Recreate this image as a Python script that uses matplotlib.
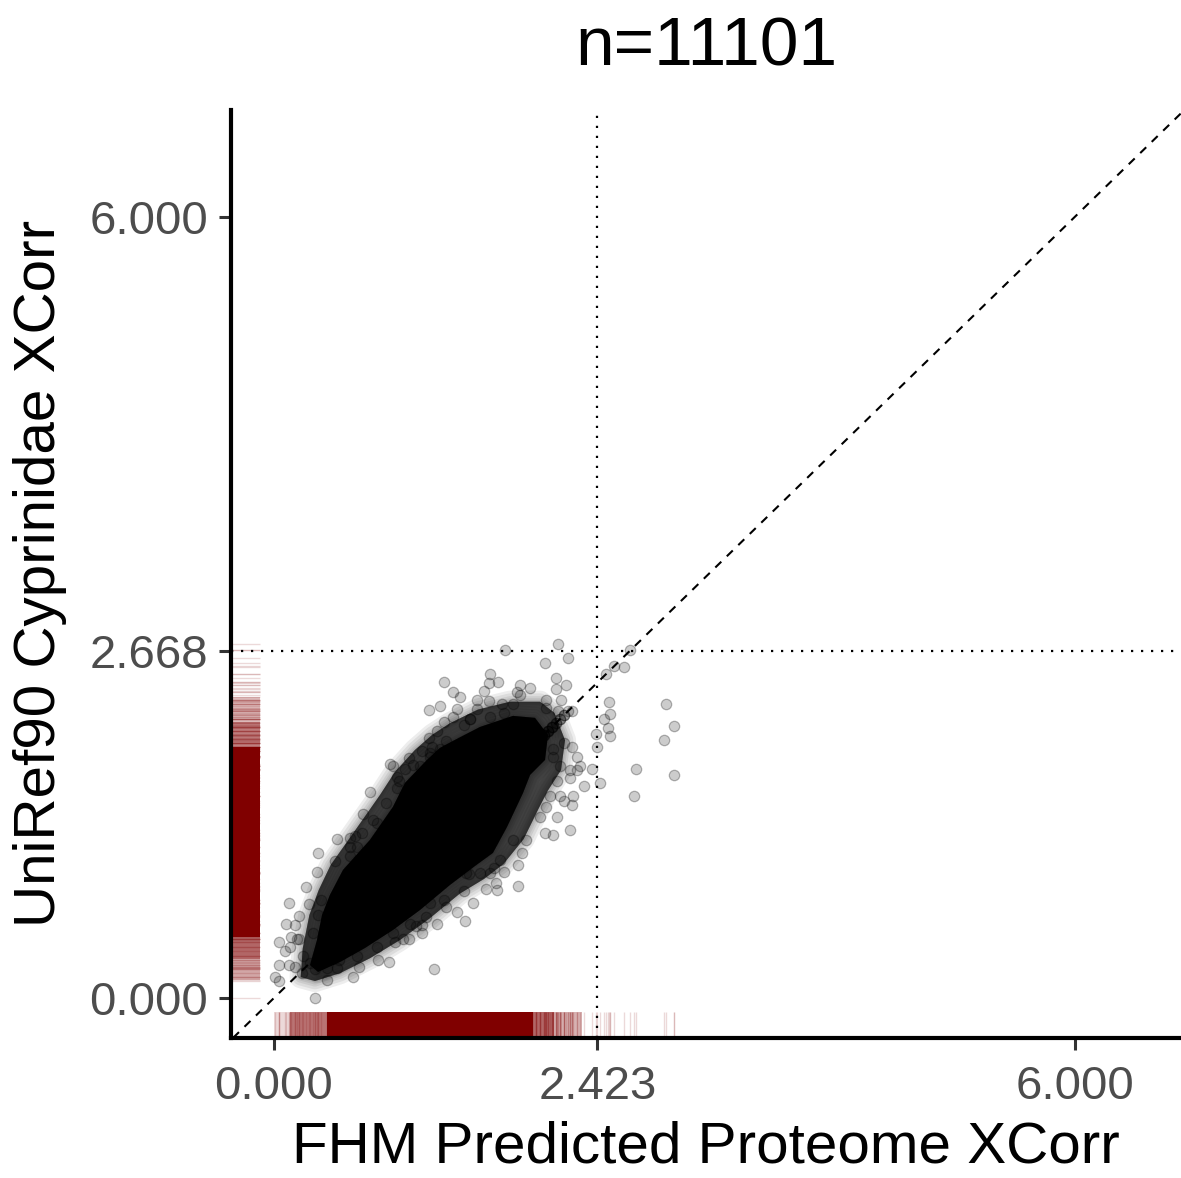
import matplotlib.pyplot as plt
import numpy as np

plt.rcParams['font.family'] = ['Liberation Sans', 'DejaVu Sans']

n_total = 11101
x_cut = 2.423
y_cut = 2.668

# outline of the saturated (solid black) part of the cloud
core_x = [0.270, 0.322, 0.360, 0.419, 0.517, 0.719, 0.891, 0.981, 1.146, 1.243, 1.356,
          1.543, 1.790, 1.955, 2.052, 2.030, 1.918, 1.865, 1.745, 1.640, 1.506, 1.318,
          1.094, 0.891, 0.682, 0.494, 0.330]
core_y = [0.253, 0.445, 0.637, 0.791, 0.983, 1.214, 1.467, 1.651, 1.828, 1.920, 1.982,
          2.081, 2.166, 2.151, 2.020, 1.828, 1.713, 1.574, 1.313, 1.114, 1.014, 0.868,
          0.676, 0.522, 0.384, 0.276, 0.200]

# outline of the mottled dark zone around it
halo_x = [0.200, 0.215, 0.265, 0.335, 0.425, 0.610, 0.794, 0.906, 1.056, 1.184, 1.318,
          1.528, 1.768, 1.993, 2.100, 2.180, 2.150, 2.050, 1.980, 1.870, 1.720, 1.575,
          1.390, 1.165, 0.944, 0.719, 0.494, 0.307]
halo_y = [0.160, 0.380, 0.637, 0.829, 1.022, 1.290, 1.559, 1.736, 1.905, 2.020, 2.110,
          2.215, 2.275, 2.275, 2.190, 1.980, 1.750, 1.590, 1.450, 1.220, 1.030, 0.915,
          0.800, 0.610, 0.445, 0.305, 0.190, 0.130]

# single points read outside / on the edge of the dense part
fringe_x = [2.13, 1.73, 2.20, 2.03, 2.67, 2.55, 2.62, 2.49, 1.27, 1.62, 1.61, 1.68, 1.84,
            1.92, 2.11, 2.19, 2.11, 1.34, 1.39, 1.57, 1.52, 1.61, 1.71, 1.79, 1.84, 1.82,
            1.16, 1.24, 1.37, 1.52, 2.04, 2.15, 2.04, 2.13, 2.23, 2.51, 2.94, 2.52, 2.47,
            2.50, 2.52, 3.00, 2.92, 1.27, 1.22, 1.16, 1.42, 1.47, 1.62, 2.41, 2.42, 2.38,
            2.32, 2.44, 2.71, 3.00, 2.70, 2.27, 2.29, 2.22, 2.24, 2.23, 2.22, 2.09, 2.03,
            2.12, 0.87, 0.89, 0.98, 1.09, 1.11, 1.18, 0.72, 0.92, 0.94, 0.67, 0.47, 0.57,
            0.62, 0.77, 0.33, 0.46, 0.32, 0.24, 0.11, 0.26, 0.35, 0.09, 0.19, 0.16, 0.04,
            0.13, 0.19, 0.08, 0.04, 0.01, 0.04, 0.16, 0.21, 0.31, 0.40, 0.47, 0.59, 0.78,
            0.86, 1.20, 0.91, 1.01, 1.11, 1.11, 1.22, 1.37, 1.43, 1.49, 1.27, 1.59, 1.67,
            1.66, 1.83, 1.83, 1.86, 1.89, 1.72, 1.62, 2.04, 2.07, 2.17,
            0.12, 0.11, 0.31, 0.64, 1.06, 1.01, 0.57, 0.66, 2.17, 2.23, 2.09, 2.22, 1.29,
            2.27, 1.65, 1.42, 1.14, 1.29, 1.46, 1.54,
            0.17, 0.22, 0.27, 0.40, 0.49, 0.62, 0.29, 0.33, 0.77, 0.97, 0.92, 1.04, 0.84,
            0.74, 0.61, 0.57, 1.17, 1.34, 1.47, 1.72, 1.84, 1.24, 1.17, 2.09, 2.14, 2.14,
            1.99, 1.79, 1.69, 2.12, 1.29, 1.17, 1.02, 0.89, 1.44]
fringe_y = [2.72, 2.67, 2.61, 2.57, 2.67, 2.55, 2.54, 2.49, 2.43, 2.49, 2.42, 2.43, 2.40,
            2.38, 2.46, 2.40, 2.37, 2.35, 2.31, 2.36, 2.29, 2.28, 2.26, 2.26, 2.33, 2.35,
            2.21, 2.24, 2.22, 2.22, 2.29, 2.29, 2.23, 2.20, 2.20, 2.27, 2.26, 2.18, 2.14,
            2.07, 2.01, 2.09, 1.98, 2.12, 2.05, 2.00, 2.10, 2.14, 2.16, 2.03, 1.93, 1.76,
            1.63, 1.65, 1.76, 1.71, 1.55, 1.85, 1.78, 1.69, 1.55, 1.48, 1.29, 1.25, 1.27,
            1.39, 1.80, 1.78, 1.76, 1.78, 1.90, 1.93, 1.58, 1.61, 1.67, 1.41, 1.22, 1.23,
            1.16, 1.34, 1.11, 1.05, 0.97, 0.85, 0.73, 0.72, 0.75, 0.57, 0.63, 0.56, 0.43,
            0.47, 0.45, 0.36, 0.25, 0.16, 0.13, 0.24, 0.19, 0.00, 0.14, 0.23, 0.16, 0.29,
            0.28, 0.22, 0.43, 0.45, 0.50, 0.56, 0.57, 0.66, 0.59, 0.73, 0.75, 0.84, 0.83,
            0.88, 0.86, 1.02, 1.11, 1.21, 0.97, 0.96, 1.47, 1.55, 1.51,
            0.39, 0.25, 0.22, 0.24, 0.55, 1.84, 1.16, 1.27, 1.96, 1.93, 1.85, 1.75, 1.97,
            1.75, 1.00, 0.82, 0.62, 0.70, 0.95, 0.96,
            0.45, 0.32, 0.27, 0.23, 0.29, 0.32, 0.50, 0.64, 0.39, 0.45, 1.70, 1.79, 1.50,
            1.37, 1.24, 1.09, 1.88, 2.16, 2.14, 2.19, 2.08, 1.91, 1.85, 1.91, 1.78, 1.55,
            1.39, 1.21, 1.06, 1.67, 0.91, 0.73, 0.57, 0.50, 0.96]

# streak of points lying on x == y
diag_vals = [1.86, 1.90, 1.93, 1.96, 1.99, 2.02, 2.05, 2.08, 2.11, 2.14, 2.17, 2.20]
diag_counts = [4, 4, 4, 4, 3, 3, 3, 3, 2, 2, 2, 1]

# rug density bands (lo, hi, opacity) where the rug is too dense to read single lines
xrug_lo = [0.00, 0.12, 0.40, 1.94, 2.10]
xrug_hi = [0.12, 0.40, 1.94, 2.10, 2.31]
xrug_a = [0.15, 0.55, 1.0, 0.6, 0.3]
yrug_lo = [0.14, 0.30, 0.47, 1.93, 2.12]
yrug_hi = [0.30, 0.47, 1.93, 2.12, 2.31]
yrug_a = [0.35, 0.6, 1.0, 0.5, 0.25]

fig = plt.figure(figsize=(5.905, 5.89), dpi=200)
ax = fig.add_axes([0.1956, 0.1189, 0.8044, 0.7878])


def soft_fill(xs, ys, inner_alpha, z):
    # blurred edge: strokes of decreasing width with low alpha
    for lw in [8, 6, 4, 2.5, 1.2]:
        ax.fill(xs, ys, facecolor=(0, 0, 0, 0.07), edgecolor=(0, 0, 0, 0.07),
                lw=lw, joinstyle='round', zorder=z)
    ax.fill(xs, ys, facecolor=(0, 0, 0, inner_alpha), lw=0, zorder=z)


soft_fill(halo_x, halo_y, 0.6, 1)
soft_fill(core_x, core_y, 1.0, 2)

pt_style = dict(s=14, facecolor=(0, 0, 0, 0.2), edgecolor=(0, 0, 0, 0.28),
                linewidth=0.45, zorder=3)
ax.scatter(fringe_x, fringe_y, **pt_style)
dv = np.repeat(diag_vals, diag_counts)
ax.scatter(dv, dv, **pt_style)

# rugs
rug_col = '#800000'
for lo, hi, a in zip(xrug_lo, xrug_hi, xrug_a):
    ax.axvspan(lo, hi, ymin=0, ymax=0.028, color=rug_col, alpha=a, lw=0, zorder=2)
for lo, hi, a in zip(yrug_lo, yrug_hi, yrug_a):
    ax.axhspan(lo, hi, xmin=0, xmax=0.031, color=rug_col, alpha=a, lw=0, zorder=2)
all_x = np.concatenate([fringe_x, dv])
all_y = np.concatenate([fringe_y, dv])
ax.vlines(all_x, 0, 0.028, transform=ax.get_xaxis_transform(),
          color=rug_col, alpha=0.15, lw=0.5, zorder=2)
ax.hlines(all_y, 0, 0.031, transform=ax.get_yaxis_transform(),
          color=rug_col, alpha=0.15, lw=0.5, zorder=2)

# reference lines
ax.axline((0, 0), slope=1, color='black', lw=0.75, ls=(0, (4, 3.7)), zorder=4)
ax.axvline(x_cut, color='black', lw=0.8, ls=(0, (1, 3.5)), zorder=4)
ax.axhline(y_cut, color='black', lw=0.8, ls=(0, (1, 3.5)), zorder=4)

ax.set_xlim(-0.322, 6.794)
ax.set_ylim(-0.307, 6.82)
ax.set_xticks([0, x_cut, 6])
ax.set_xticklabels(['%.3f' % v for v in [0, x_cut, 6]])
ax.set_yticks([0, y_cut, 6])
ax.set_yticklabels(['%.3f' % v for v in [0, y_cut, 6]])

for s in ['top', 'right']:
    ax.spines[s].set_visible(False)
for s in ['left', 'bottom']:
    ax.spines[s].set_linewidth(1.5)
ax.tick_params(axis='both', length=4.3, width=1.1, color='#333333',
               labelsize=17, labelcolor='#4D4D4D')
ax.tick_params(axis='x', pad=5.5)
ax.tick_params(axis='y', pad=4)

ax.set_xlabel('FHM Predicted Proteome XCorr', fontsize=21, labelpad=4)
ax.set_ylabel('UniRef90 Cyprinidae XCorr', fontsize=21, labelpad=8)
ax.set_title('n=%d' % n_total, fontsize=25, pad=16)

fig.savefig('out.png', dpi=200)
